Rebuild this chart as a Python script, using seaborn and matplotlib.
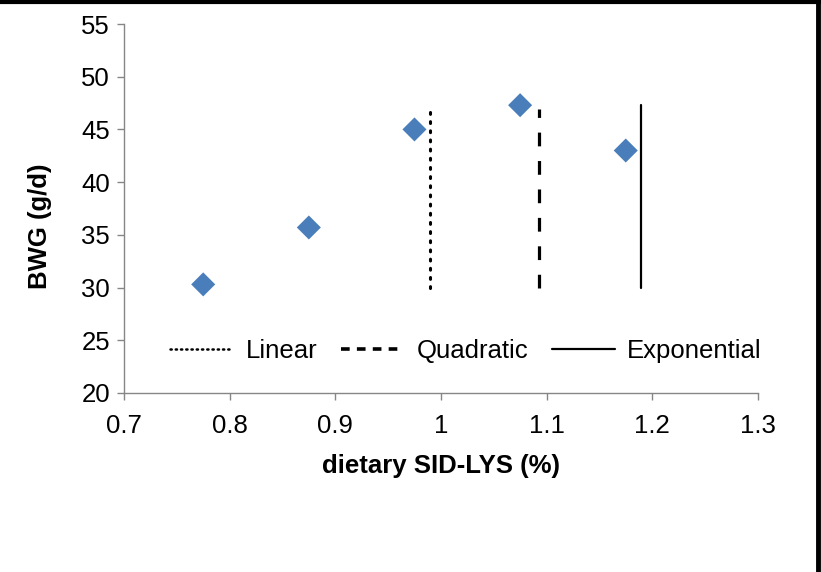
import matplotlib
matplotlib.use("Agg")
import matplotlib.pyplot as plt
from matplotlib.lines import Line2D
import seaborn as sns
import pandas as pd

# Observed body weight gain by dietary lysine level
sid_lys = [0.775, 0.875, 0.975, 1.075, 1.175]
bwg = [30.3, 35.7, 45.0, 47.3, 43.0]

# Estimated optimum SID-LYS from three dose-response models
model_names = ["Linear", "Quadratic", "Exponential"]
model_optimum = [0.990, 1.093, 1.189]
line_low = [30.0, 30.0, 30.0]
line_high = [47.3, 46.9, 47.3]

x_ticks = [0.7, 0.8, 0.9, 1.0, 1.1, 1.2, 1.3]
x_tick_labels = ["0.7", "0.8", "0.9", "1", "1.1", "1.2", "1.3"]
y_ticks = [20, 25, 30, 35, 40, 45, 50, 55]

sns.set_theme(style="white")
plt.rcParams["font.family"] = ["Liberation Sans", "DejaVu Sans"]
plt.rcParams["text.color"] = "black"

FS = 18.5

fig = plt.figure(figsize=(8.21, 5.72), dpi=100)
ax = fig.add_axes([0.151, 0.313, 0.772, 0.645])

df = pd.DataFrame({"SID-LYS": sid_lys, "BWG": bwg})
sns.scatterplot(data=df, x="SID-LYS", y="BWG", marker="D", s=150,
                color="#4a7ebb", edgecolor="none", ax=ax, zorder=3)

styles = {
    "Linear": dict(linestyle=(0, (0.6, 2.4)), linewidth=2.2, dash_capstyle="round"),
    "Quadratic": dict(linestyle=(0, (4.3, 4.6)), linewidth=2.3),
    "Exponential": dict(linestyle="-", linewidth=1.6),
}
handles = []
for name, xo, lo, hi in zip(model_names, model_optimum, line_low, line_high):
    vdf = pd.DataFrame({"x": [xo, xo], "y": [lo, hi]})
    sns.lineplot(data=vdf, x="x", y="y", orient="y", color="black",
                 ax=ax, zorder=2, **styles[name])
    st = dict(styles[name])
    if name == "Linear":
        st["linestyle"] = (0, (0.5, 1.6))
        st["linewidth"] = 1.8
    if name == "Quadratic":
        st["linestyle"] = (0, (2.4, 2.0))
        st["linewidth"] = 2.6
    handles.append(Line2D([], [], color="black", **st))

ax.set_xlim(0.7, 1.3)
ax.set_ylim(20, 55)
ax.set_xticks(x_ticks)
ax.set_xticklabels(x_tick_labels)
ax.set_yticks(y_ticks)

for side in ["top", "right"]:
    ax.spines[side].set_visible(False)
for side in ["left", "bottom"]:
    ax.spines[side].set_color("#868686")
    ax.spines[side].set_linewidth(1.0)
ax.tick_params(axis="both", which="major", direction="out", length=5,
               width=1.0, color="#868686", labelsize=FS, labelcolor="black",
               left=True, bottom=True)
ax.tick_params(axis="x", pad=10.5)
ax.tick_params(axis="y", pad=5)

ax.set_xlabel("dietary SID-LYS (%)", fontsize=FS, fontweight="bold",
              labelpad=11, color="black")
ax.set_ylabel("BWG (g/d)", fontsize=FS, fontweight="bold", color="black")
ax.yaxis.set_label_coords(-0.114, 0.453)

leg = ax.legend(handles, model_names, ncol=3, frameon=False, fontsize=FS,
                loc="center", bbox_to_anchor=(0.540, 0.114),
                handlelength=2.45, handletextpad=0.5, columnspacing=0.9)
for t in leg.get_texts():
    t.set_color("black")

# figure frame on the top and right edges
fig.add_artist(Line2D([0, 1], [0.997, 0.997], transform=fig.transFigure,
                      color="black", linewidth=3))
fig.add_artist(Line2D([0.9965, 0.9965], [0, 1], transform=fig.transFigure,
                      color="black", linewidth=3.5))

fig.savefig("out.png", dpi=100, facecolor="white")
